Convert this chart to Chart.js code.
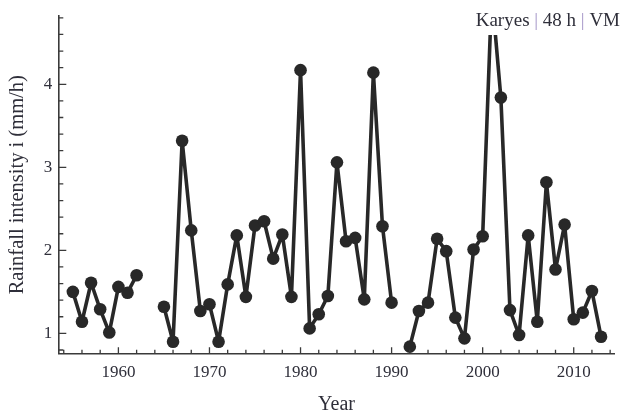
<!DOCTYPE html>
<html><head><meta charset="utf-8">
<script src="https://cdn.jsdelivr.net/npm/chart.js@4.4.1/dist/chart.umd.min.js"></script>
<style>html,body{margin:0;padding:0;background:#fff}#wrap{width:621px;height:419px;position:relative}</style>
</head><body><div id="wrap"><canvas id="c"></canvas></div>
<script>
// ---- data ----
const years = [1955,1956,1957,1958,1959,1960,1961,1962,1963,1964,1965,1966,1967,1968,1969,1970,1971,1972,1973,1974,1975,1976,1977,1978,1979,1980,1981,1982,1983,1984,1985,1986,1987,1988,1989,1990,1991,1992,1993,1994,1995,1996,1997,1998,1999,2000,2001,2002,2003,2004,2005,2006,2007,2008,2009,2010,2011,2012,2013];
const intensity = [1.50,1.14,1.61,1.29,1.01,1.56,1.49,1.70,null,null,1.32,0.90,3.32,2.24,1.27,1.35,0.90,1.59,2.18,1.44,2.30,2.35,1.90,2.19,1.44,4.17,1.06,1.23,1.45,3.06,2.11,2.15,1.41,4.14,2.29,1.37,null,0.84,1.27,1.37,2.14,1.99,1.19,0.94,2.01,2.17,5.10,3.84,1.28,0.98,2.18,1.14,2.82,1.77,2.31,1.17,1.25,1.51,0.96];
const xTickLabels = [1960,1970,1980,1990,2000,2010];
const yTickLabels = [1,2,3,4];
const cornerParts = ['Karyes',' | ','48 h',' | ','VM'];
const xTitle = 'Year';
const yTitle = 'Rainfall intensity i (mm/h)';

// ---- style ----
const SERIF = '"Liberation Serif","DejaVu Serif",serif';
const LINE = '#282828';
const AX = '#3a3a3a';
const TXT = '#2f2f3a';
const PIPE = '#a596c8';

const axisTicks = {
  id: 'axisTicks',
  afterDatasetsDraw(chart) {
    const {ctx, chartArea: a, scales: {x, y}} = chart;
    ctx.save();
    ctx.strokeStyle = AX;
    ctx.lineWidth = 1.3;
    ctx.beginPath();
    for (let yr = 1954; yr <= 2014; yr += 2) {
      const px = x.getPixelForValue(yr);
      const L = yr % 10 === 0 ? 6 : 3.5;
      ctx.moveTo(px, a.bottom); ctx.lineTo(px, a.bottom - L);
    }
    for (let k = 4; k <= 24; k++) {
      const py = y.getPixelForValue(k / 5);
      const L = k % 5 === 0 ? 8 : 5;
      ctx.moveTo(a.left, py); ctx.lineTo(a.left + L, py);
    }
    ctx.stroke();

    // corner label with white background
    ctx.font = '19px ' + SERIF;
    const widths = cornerParts.map(t => ctx.measureText(t).width);
    const total = widths.reduce((s, w) => s + w, 0);
    const right = chart.width - 1;
    let cx = right - total;
    ctx.fillStyle = '#fff';
    ctx.fillRect(cx - 4, 0, total + 6, 35);
    ctx.textBaseline = 'alphabetic';
    ctx.textAlign = 'left';
    cornerParts.forEach((t, i) => {
      ctx.fillStyle = t.trim() === '|' ? PIPE : TXT;
      ctx.fillText(t, cx, 25.5);
      cx += widths[i];
    });
    ctx.restore();
  }
};

new Chart(document.getElementById('c'), {
  type: 'line',
  data: {
    datasets: [{
      data: years.map((yr, i) => ({x: yr, y: intensity[i]})),
      borderColor: LINE,
      backgroundColor: LINE,
      borderWidth: 3.6,
      borderJoinStyle: 'round',
      borderCapStyle: 'round',
      pointRadius: 6.3,
      pointHoverRadius: 6.3,
      pointBorderWidth: 0,
      pointBackgroundColor: LINE,
      tension: 0,
      spanGaps: false
    }]
  },
  options: {
    responsive: true,
    maintainAspectRatio: false,
    animation: false,
    events: [],
    layout: {padding: {top: 11, right: 2, left: 0, bottom: 0}},
    plugins: {legend: {display: false}, tooltip: {enabled: false}, title: {display: false}},
    scales: {
      x: {
        type: 'linear', min: 1953.4, max: 2014.5,
        grid: {display: false, drawTicks: false},
        border: {display: true, color: AX, width: 1.6},
        ticks: {font: {family: SERIF, size: 17}, color: TXT, padding: 9, maxRotation: 0, autoSkip: false, callback: v => String(v)},
        afterBuildTicks: s => { s.ticks = xTickLabels.map(v => ({value: v})); },
        afterFit: s => { s.height = 65.7; },
        title: {display: true, text: xTitle, font: {family: SERIF, size: 20}, color: TXT, padding: {top: 0, bottom: 2}}
      },
      y: {
        type: 'linear', min: 0.76, max: 4.82,
        grid: {display: false, drawTicks: false},
        border: {display: true, color: AX, width: 1.6},
        ticks: {font: {family: SERIF, size: 17}, color: TXT, padding: 6, autoSkip: false, callback: v => String(v)},
        afterBuildTicks: s => { s.ticks = yTickLabels.map(v => ({value: v})); },
        afterFit: s => { s.width = 58.3; },
        title: {display: true, text: yTitle, font: {family: SERIF, size: 20.5}, color: TXT, padding: {top: 5.5, bottom: 0}}
      }
    }
  },
  plugins: [axisTicks]
});
</script>
</body></html>
